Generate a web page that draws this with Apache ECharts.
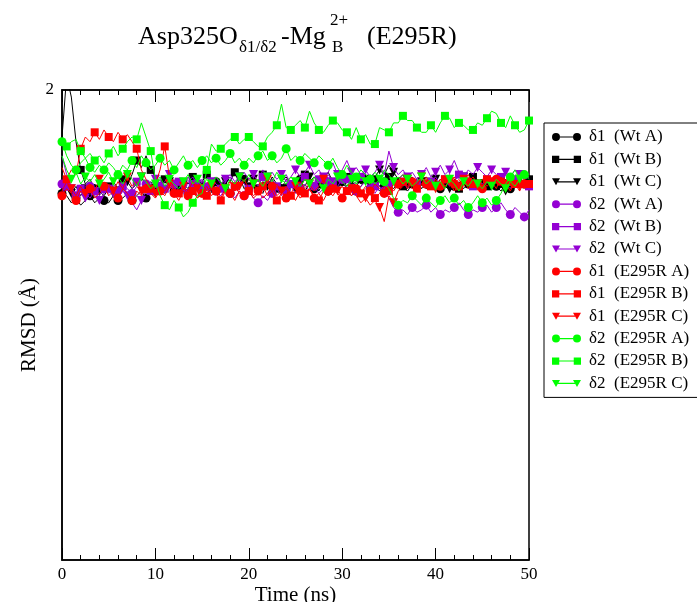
<!DOCTYPE html>
<html><head><meta charset="utf-8">
<script src="https://cdn.jsdelivr.net/npm/echarts@6/dist/echarts.min.js"></script>
<style>html,body{margin:0;padding:0;background:#fff}#c{width:697px;height:602px}</style>
</head><body><div id="c"></div>
<script>
// time grid: one sample every 0.5 ns, 0..50 ns
const timeStep = 0.5;
const xTicks = [0, 10, 20, 30, 40, 50];

const d1WtA = [1.56,1.55,1.52,1.54,1.51,1.53,1.55,1.52,1.54,1.53,
1.52,1.55,1.53,1.54,1.56,1.53,1.55,1.57,1.54,1.56,
1.55,1.58,1.56,1.59,1.57,1.55,1.58,1.56,1.60,1.57,
1.59,1.56,1.58,1.61,1.57,1.59,1.56,1.60,1.58,1.62,
1.57,1.60,1.58,1.56,1.61,1.59,1.57,1.60,1.58,1.61,
1.59,1.62,1.57,1.60,1.58,1.61,1.59,1.57,1.60,1.58,
1.61,1.58,1.60,1.57,1.59,1.62,1.58,1.60,1.57,1.59,
1.60,1.58,1.61,1.59,1.57,1.60,1.62,1.58,1.60,1.59,
1.61,1.58,1.60,1.57,1.59,1.61,1.58,1.60,1.62,1.59,
1.60,1.58,1.61,1.59,1.57,1.60,1.58,1.61,1.59,1.60,1.60];

const d1WtB = [1.80,2.06,1.97,1.78,1.66,1.60,1.62,1.58,1.60,1.57,
1.59,1.61,1.58,1.62,1.60,1.64,1.70,1.67,1.72,1.66,
1.63,1.60,1.62,1.59,1.61,1.58,1.62,1.60,1.63,1.59,
1.61,1.64,1.60,1.62,1.59,1.63,1.61,1.65,1.60,1.62,
1.59,1.63,1.61,1.64,1.60,1.62,1.58,1.61,1.63,1.60,
1.62,1.59,1.64,1.61,1.63,1.60,1.62,1.65,1.61,1.63,
1.60,1.63,1.61,1.59,1.62,1.64,1.60,1.62,1.59,1.61,
1.63,1.60,1.62,1.59,1.61,1.63,1.60,1.62,1.58,1.61,
1.59,1.62,1.60,1.63,1.61,1.58,1.62,1.60,1.63,1.61,
1.62,1.59,1.61,1.63,1.60,1.62,1.59,1.61,1.63,1.60,1.62];

const d1WtC = [1.58,1.62,1.56,1.59,1.55,1.58,1.56,1.60,1.57,1.55,
1.58,1.56,1.59,1.57,1.61,1.58,1.60,1.63,1.59,1.61,
1.58,1.60,1.57,1.61,1.59,1.56,1.60,1.58,1.62,1.59,
1.57,1.60,1.58,1.62,1.59,1.61,1.57,1.60,1.63,1.58,
1.60,1.62,1.58,1.61,1.59,1.63,1.60,1.58,1.62,1.60,
1.58,1.61,1.59,1.63,1.60,1.57,1.61,1.59,1.62,1.60,
1.62,1.59,1.61,1.64,1.60,1.62,1.59,1.63,1.66,1.64,
1.68,1.65,1.62,1.64,1.60,1.62,1.59,1.61,1.63,1.60,
1.62,1.59,1.61,1.58,1.62,1.60,1.63,1.59,1.61,1.60,
1.58,1.61,1.59,1.62,1.60,1.57,1.61,1.59,1.62,1.60,1.61];

const d2WtA = [1.60,1.57,1.59,1.55,1.58,1.56,1.59,1.57,1.55,1.58,
1.56,1.59,1.57,1.60,1.58,1.56,1.59,1.57,1.60,1.58,
1.57,1.59,1.56,1.58,1.60,1.57,1.59,1.56,1.58,1.55,
1.58,1.56,1.59,1.57,1.55,1.58,1.56,1.54,1.57,1.55,
1.57,1.54,1.52,1.55,1.53,1.56,1.58,1.55,1.57,1.59,
1.56,1.58,1.60,1.57,1.59,1.56,1.58,1.61,1.57,1.59,
1.62,1.58,1.60,1.57,1.59,1.61,1.58,1.56,1.59,1.57,
1.54,1.50,1.48,1.49,1.47,1.50,1.48,1.49,1.51,1.48,
1.50,1.47,1.49,1.48,1.50,1.52,1.49,1.47,1.49,1.48,
1.50,1.51,1.48,1.50,1.52,1.49,1.47,1.50,1.48,1.46,1.49];

const d2WtB = [1.56,1.59,1.57,1.55,1.58,1.56,1.54,1.57,1.59,1.56,
1.58,1.60,1.57,1.59,1.56,1.58,1.61,1.58,1.60,1.57,
1.59,1.62,1.58,1.60,1.57,1.61,1.59,1.63,1.60,1.58,
1.61,1.59,1.62,1.60,1.58,1.61,1.63,1.59,1.62,1.60,
1.58,1.61,1.59,1.63,1.60,1.62,1.59,1.61,1.64,1.60,
1.62,1.60,1.63,1.61,1.59,1.62,1.60,1.64,1.61,1.63,
1.60,1.62,1.59,1.61,1.63,1.60,1.62,1.59,1.61,1.63,
1.60,1.62,1.59,1.61,1.58,1.62,1.60,1.63,1.59,1.61,
1.63,1.60,1.62,1.59,1.61,1.64,1.60,1.62,1.59,1.61,
1.60,1.62,1.59,1.61,1.63,1.60,1.58,1.62,1.60,1.61,1.59];

const d2WtC = [1.72,1.64,1.58,1.55,1.57,1.54,1.58,1.56,1.53,1.56,
1.59,1.56,1.54,1.57,1.55,1.52,1.49,1.53,1.57,1.60,
1.62,1.59,1.61,1.64,1.60,1.62,1.58,1.61,1.63,1.60,
1.62,1.59,1.61,1.63,1.60,1.62,1.64,1.61,1.63,1.65,
1.62,1.64,1.61,1.66,1.63,1.65,1.62,1.64,1.61,1.63,
1.66,1.63,1.65,1.68,1.64,1.66,1.63,1.65,1.69,1.64,
1.66,1.70,1.65,1.67,1.64,1.66,1.63,1.65,1.68,1.64,
1.74,1.67,1.64,1.66,1.63,1.65,1.62,1.64,1.67,1.63,
1.65,1.68,1.64,1.66,1.70,1.65,1.63,1.66,1.64,1.67,
1.65,1.63,1.66,1.64,1.62,1.65,1.63,1.66,1.64,1.62,1.63];

const d1ERA = [1.55,1.58,1.56,1.53,1.57,1.55,1.58,1.54,1.56,1.59,
1.55,1.57,1.54,1.58,1.56,1.53,1.57,1.55,1.58,1.56,
1.54,1.57,1.55,1.59,1.56,1.53,1.57,1.55,1.58,1.54,
1.56,1.59,1.55,1.57,1.54,1.58,1.56,1.53,1.57,1.55,
1.58,1.55,1.57,1.54,1.56,1.59,1.55,1.57,1.54,1.56,
1.53,1.57,1.55,1.58,1.54,1.56,1.53,1.57,1.55,1.58,
1.54,1.57,1.55,1.58,1.56,1.59,1.57,1.60,1.58,1.56,
1.59,1.57,1.60,1.62,1.58,1.61,1.59,1.63,1.60,1.58,
1.62,1.59,1.61,1.64,1.60,1.62,1.59,1.61,1.63,1.60,
1.58,1.61,1.59,1.62,1.60,1.57,1.61,1.59,1.62,1.60,1.61];

const d1ERB = [1.67,1.62,1.66,1.64,1.75,1.80,1.78,1.82,1.79,1.83,
1.80,1.78,1.82,1.79,1.81,1.78,1.75,1.66,1.62,1.58,
1.60,1.66,1.76,1.63,1.58,1.56,1.59,1.55,1.57,1.54,
1.57,1.55,1.58,1.56,1.53,1.57,1.55,1.59,1.56,1.54,
1.57,1.54,1.56,1.59,1.55,1.57,1.53,1.56,1.58,1.55,
1.57,1.54,1.56,1.58,1.55,1.53,1.57,1.55,1.58,1.56,
1.54,1.57,1.55,1.58,1.56,1.53,1.57,1.54,1.56,1.59,
1.57,1.60,1.58,1.61,1.59,1.62,1.58,1.60,1.63,1.59,
1.61,1.58,1.62,1.60,1.63,1.59,1.61,1.64,1.60,1.62,
1.59,1.62,1.60,1.63,1.61,1.58,1.62,1.60,1.57,1.61,1.60];

const d1ERC = [1.57,1.61,1.58,1.55,1.59,1.56,1.60,1.57,1.62,1.58,
1.60,1.57,1.61,1.58,1.63,1.59,1.61,1.57,1.60,1.58,
1.56,1.59,1.57,1.60,1.58,1.55,1.59,1.57,1.61,1.58,
1.60,1.57,1.59,1.56,1.60,1.58,1.61,1.57,1.59,1.62,
1.58,1.60,1.57,1.59,1.62,1.58,1.60,1.57,1.59,1.56,
1.59,1.61,1.58,1.60,1.57,1.59,1.62,1.58,1.60,1.57,
1.59,1.56,1.58,1.55,1.52,1.54,1.51,1.53,1.50,1.44,
1.55,1.52,1.57,1.59,1.62,1.58,1.60,1.63,1.59,1.61,
1.58,1.62,1.59,1.61,1.57,1.60,1.62,1.58,1.61,1.59,
1.62,1.59,1.61,1.58,1.63,1.60,1.57,1.61,1.59,1.62,1.60];

const d2ERA = [1.78,1.72,1.68,1.66,1.69,1.71,1.67,1.65,1.68,1.66,
1.69,1.67,1.64,1.68,1.66,1.70,1.67,1.72,1.69,1.66,
1.68,1.71,1.68,1.70,1.66,1.69,1.72,1.68,1.70,1.67,
1.70,1.72,1.69,1.71,1.68,1.70,1.73,1.69,1.71,1.68,
1.71,1.69,1.72,1.74,1.70,1.72,1.69,1.71,1.75,1.70,
1.72,1.70,1.73,1.71,1.69,1.72,1.70,1.68,1.71,1.67,
1.64,1.68,1.65,1.63,1.66,1.64,1.62,1.65,1.63,1.61,
1.58,1.54,1.51,1.53,1.52,1.55,1.53,1.51,1.54,1.52,
1.50,1.53,1.55,1.52,1.54,1.51,1.53,1.50,1.52,1.55,
1.52,1.54,1.51,1.53,1.56,1.60,1.63,1.66,1.62,1.64,1.63];

const d2ERB = [1.79,1.76,1.78,1.79,1.74,1.71,1.73,1.70,1.72,1.69,
1.73,1.76,1.72,1.75,1.78,1.80,1.79,1.86,1.80,1.74,
1.62,1.55,1.51,1.49,1.53,1.50,1.46,1.48,1.52,1.55,
1.56,1.66,1.77,1.74,1.75,1.77,1.79,1.80,1.77,1.79,
1.80,1.78,1.76,1.76,1.80,1.82,1.85,1.94,1.84,1.83,
1.85,1.87,1.84,1.91,1.86,1.83,1.82,1.85,1.87,1.86,
1.83,1.82,1.79,1.84,1.79,1.81,1.77,1.77,1.84,1.83,
1.82,1.86,1.86,1.89,1.87,1.87,1.84,1.82,1.82,1.85,
1.82,1.86,1.89,1.88,1.84,1.86,1.85,1.83,1.83,1.86,
1.85,1.88,1.91,1.90,1.86,1.84,1.89,1.85,1.82,1.83,1.87];

const d2ERC = [1.72,1.66,1.62,1.65,1.60,1.63,1.61,1.64,1.60,1.62,
1.65,1.61,1.63,1.60,1.64,1.62,1.59,1.63,1.61,1.58,
1.60,1.63,1.59,1.62,1.60,1.58,1.61,1.64,1.60,1.62,
1.59,1.62,1.60,1.63,1.61,1.58,1.62,1.60,1.63,1.61,
1.64,1.60,1.62,1.59,1.63,1.61,1.65,1.62,1.60,1.63,
1.61,1.59,1.62,1.60,1.63,1.61,1.58,1.62,1.60,1.63,
1.61,1.59,1.62,1.60,1.63,1.61,1.64,1.60,1.62,1.66,
1.64,1.61,1.63,1.60,1.62,1.59,1.61,1.63,1.60,1.62,
1.59,1.61,1.58,1.62,1.60,1.57,1.61,1.59,1.62,1.60,
1.58,1.61,1.59,1.62,1.60,1.58,1.61,1.59,1.62,1.64,1.62];

const seriesNames = ['δ1  (Wt A)','δ1  (Wt B)','δ1  (Wt C)','δ2  (Wt A)','δ2  (Wt B)','δ2  (Wt C)',
  'δ1  (E295R A)','δ1  (E295R B)','δ1  (E295R C)','δ2  (E295R A)','δ2  (E295R B)','δ2  (E295R C)'];
const seriesValues = [d1WtA,d1WtB,d1WtC,d2WtA,d2WtB,d2WtC,d1ERA,d1ERB,d1ERC,d2ERA,d2ERB,d2ERC];
const colors = ['#000000','#9400d3','#ff0000','#00ff00'];
const shapes = ['circle','rect','triangle'];
const icons = [
  'path://M0,4a4,4 0 1,0 8,0a4,4 0 1,0 -8,0zM8,3.4h13v1.2h-13zM21,4a4,4 0 1,0 8,0a4,4 0 1,0 -8,0z',
  'path://M0.5,0.5h7v7h-7zM7.5,3.4h14v1.2h-14zM21.5,0.5h7v7h-7z',
  'path://M0,0.5h8l-4,7zM6,3.4h17v1.2h-17zM21,0.5h8l-4,7z'
];

const FONT = '"Liberation Serif", "Times New Roman", serif';

const series = seriesValues.map((vals, k) => {
  const color = colors[Math.floor(k / 3)];
  const shape = shapes[k % 3];
  const off = k % 3;
  return {
    name: seriesNames[k],
    type: 'line',
    data: vals.map((v, i) => [i * timeStep, v]),
    showAllSymbol: true,
    symbol: (val, params) => (params.dataIndex % 3 === off ? shape : 'none'),
    symbolSize: shape === 'rect' ? 8 : 9,
    symbolRotate: shape === 'triangle' ? 180 : 0,
    lineStyle: { color, width: 1 },
    itemStyle: { color },
    silent: true,
    clip: true,
    z: 2 + k
  };
});

const chart = echarts.init(document.getElementById('c'), null, { renderer: 'canvas' });
const tickStyle = { color: '#000', width: 1 };
const axisLineStyle = { show: true, lineStyle: { color: '#000', width: 1.5 } };
chart.setOption({
  animation: false,
  backgroundColor: '#fff',
  grid: { left: 62, right: 168, top: 90, bottom: 42, show: true, borderColor: '#000', borderWidth: 1.5,
          backgroundColor: 'transparent', outerBoundsMode: 'none', containLabel: false },
  xAxis: [{
    type: 'value', min: xTicks[0], max: xTicks[xTicks.length - 1], interval: 10,
    axisLine: axisLineStyle,
    axisTick: { show: true, inside: true, length: 12, lineStyle: tickStyle },
    minorTick: { show: true, splitNumber: 5, length: 5, lineStyle: tickStyle },
    splitLine: { show: false },
    axisLabel: { color: '#000', fontFamily: FONT, fontSize: 17, margin: 6 },
    name: 'Time (ns)', nameLocation: 'middle', nameGap: 25, nameMoveOverlap: false,
    nameTextStyle: { color: '#000', fontFamily: FONT, fontSize: 21 }
  }, {
    type: 'value', position: 'top', min: 0, max: 50, interval: 10,
    axisLine: axisLineStyle,
    axisTick: { show: true, inside: true, length: 12, lineStyle: tickStyle },
    minorTick: { show: true, splitNumber: 5, length: 5, lineStyle: tickStyle },
    splitLine: { show: false },
    axisLabel: { show: false }
  }],
  yAxis: {
    type: 'value', min: 0, max: 2, interval: 2,
    axisLine: axisLineStyle, axisTick: { show: false }, splitLine: { show: false },
    axisLabel: { color: '#000', fontFamily: FONT, fontSize: 17, margin: 8, showMinLabel: false },
    name: 'RMSD (Å)', nameLocation: 'middle', nameGap: 22, nameRotate: 90, nameMoveOverlap: false,
    nameTextStyle: { color: '#000', fontFamily: FONT, fontSize: 21 }
  },
  legend: {
    orient: 'vertical', left: 544, top: 123,
    itemWidth: 29, itemHeight: 8, itemGap: 5.4,
    padding: [5.5, 40, 5.5, 8],
    borderColor: '#000', borderWidth: 1,
    selectedMode: false,
    textStyle: { color: '#000', fontFamily: FONT, fontSize: 17, lineHeight: 17, padding: [0, 0, 0, 3] },
    data: seriesNames.map((n, i) => ({ name: n, icon: icons[i % 3] }))
  },
  graphic: [
    { type: 'text', x: 138, y: 37, style: { text: 'Asp325O', font: '26px ' + FONT, fill: '#000', verticalAlign: 'middle' } },
    { type: 'text', x: 239, y: 48, style: { text: 'δ1/δ2', font: '17px ' + FONT, fill: '#000', verticalAlign: 'middle' } },
    { type: 'text', x: 281, y: 37, style: { text: '-Mg', font: '26px ' + FONT, fill: '#000', verticalAlign: 'middle' } },
    { type: 'text', x: 330, y: 21, style: { text: '2+', font: '17px ' + FONT, fill: '#000', verticalAlign: 'middle' } },
    { type: 'text', x: 332, y: 48, style: { text: 'B', font: '17px ' + FONT, fill: '#000', verticalAlign: 'middle' } },
    { type: 'text', x: 367, y: 37, style: { text: '(E295R)', font: '26px ' + FONT, fill: '#000', verticalAlign: 'middle' } }
  ],
  series
});
</script>
</body></html>
